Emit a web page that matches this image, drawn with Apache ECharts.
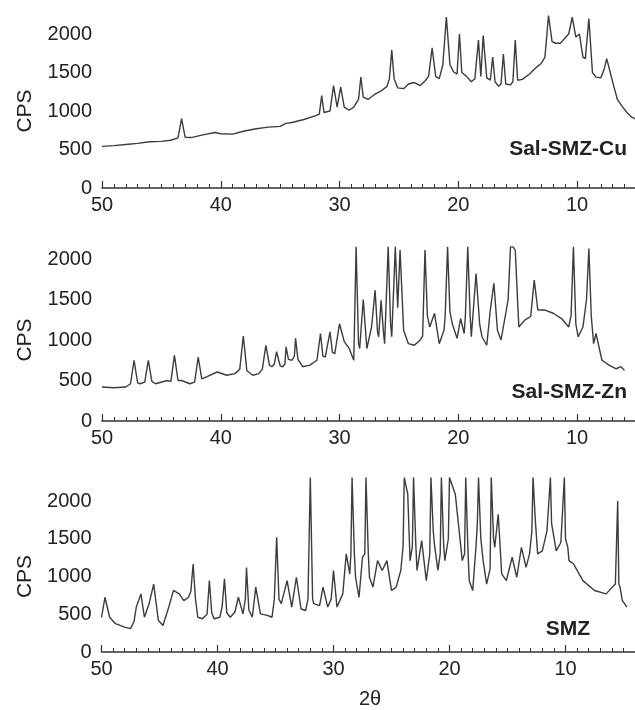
<!DOCTYPE html>
<html>
<head>
<meta charset="utf-8">
<script src="https://cdn.jsdelivr.net/npm/echarts@6/dist/echarts.min.js"></script>
<style>html,body{margin:0;padding:0;background:#fff}#c{width:635px;height:710px}</style>
</head>
<body>
<div id="c"></div>
<script>
// ---- Data (2θ, CPS) ----
const cuTheta = [50,49,48,47,46,45,44.2,43.6,43.3,43.0,42.5,41.5,40.5,40,39,38,37,36,35,34.5,34,33,32,31.7,31.5,31.3,30.8,30.5,30.2,29.9,29.6,29.2,28.8,28.4,28.2,28.0,27.6,27.0,26.5,26.0,25.8,25.6,25.4,25.1,24.6,24.2,23.7,23.2,22.8,22.5,22.2,21.9,21.6,21.3,21.0,20.7,20.4,20.1,19.9,19.7,19.3,18.9,18.6,18.3,18.1,17.9,17.6,17.3,17.1,16.9,16.6,16.4,16.2,16.0,15.6,15.4,15.2,15.0,14.6,14.0,13.4,13.0,12.7,12.4,12.1,11.8,11.4,11.0,10.7,10.4,10.1,9.8,9.5,9.3,9.0,8.7,8.4,8.0,7.7,7.5,7.2,6.9,6.6,6.2,5.8,5.4,5.0];
const cuCPS   = [540,550,565,580,600,605,620,650,900,660,655,690,720,705,700,740,770,790,800,840,850,890,940,960,1200,980,1000,1330,1050,1310,1050,1010,1050,1150,1440,1180,1150,1220,1260,1320,1420,1790,1420,1300,1290,1350,1370,1330,1390,1450,1820,1450,1420,1600,2220,1600,1510,1480,2000,1500,1450,1380,1420,1920,1450,1980,1430,1400,1700,1380,1320,1350,1740,1350,1340,1380,1920,1400,1410,1480,1570,1620,1700,2240,1900,1880,1880,1950,2000,2220,1960,2000,1700,1680,2200,1500,1440,1430,1550,1680,1500,1320,1150,1060,980,920,890];

const znTheta = [50,49,48,47.6,47.3,47.0,46.8,46.4,46.1,45.8,45.5,44.5,44.2,43.9,43.6,43.3,42.6,42.2,41.9,41.6,41.2,40.3,39.5,38.8,38.4,38.1,37.8,37.3,36.8,36.5,36.2,35.9,35.7,35.5,35.3,35.0,34.8,34.6,34.5,34.3,34.0,33.8,33.7,33.5,33.1,32.5,31.9,31.6,31.4,31.2,30.8,30.6,30.4,30.0,29.6,29.2,28.8,28.6,28.4,28.3,28.0,27.8,27.7,27.3,27.0,26.8,26.7,26.5,26.3,26.2,25.9,25.7,25.6,25.3,25.1,24.9,24.6,24.2,23.7,23.2,23.0,22.8,22.6,22.4,22.0,21.6,21.2,21.1,20.9,20.7,20.5,20.1,19.8,19.5,19.4,19.2,19.0,18.9,18.5,18.2,18.0,17.6,17.3,17.0,16.7,16.4,16.0,15.8,15.6,15.4,15.2,14.9,14.4,13.9,13.6,13.3,12.7,12.0,11.3,10.7,10.5,10.3,10.1,9.9,9.5,9.2,9.0,8.8,8.6,8.4,7.9,7.3,6.7,6.3,6.0];
const znCPS   = [420,410,420,460,750,470,460,480,750,490,460,500,490,810,500,500,460,480,790,520,545,605,565,585,640,1050,620,565,585,640,935,690,670,700,855,680,670,700,915,760,750,800,1020,760,670,690,750,1080,800,790,1100,850,830,1200,980,900,750,2150,960,895,1500,1100,895,1160,1615,1100,1040,1490,1100,955,2150,1200,1040,2150,1400,2110,1120,955,935,1000,1050,2110,1300,1160,1330,955,1120,1300,2150,1350,1200,1020,1265,1080,1300,2150,1300,1040,1820,1200,1040,935,1370,1700,1120,1000,1330,1500,2150,2150,2110,1160,1245,1290,1740,1370,1370,1330,1265,1160,1300,2150,1200,1040,1160,1500,2130,1300,955,1080,750,690,645,670,625];

const smzTheta = [50,49.7,49.3,48.8,48,47.5,47.2,47.0,46.6,46.3,45.9,45.5,45.1,44.7,44.2,43.8,43.3,42.9,42.5,42.3,42.1,41.9,41.7,41.3,40.9,40.7,40.5,40.3,39.8,39.6,39.4,39.2,38.9,38.5,38.2,37.8,37.6,37.5,37.3,37.0,36.7,36.3,35.7,35.3,35.1,34.9,34.7,34.5,34.0,33.6,33.2,32.8,32.4,32.2,32.0,31.8,31.7,31.2,30.9,30.5,30.2,30.0,29.7,29.2,28.9,28.6,28.5,28.4,28.2,28.1,27.8,27.5,27.3,27.2,27.0,26.9,26.6,26.2,25.8,25.4,25.0,24.6,24.2,24.0,23.9,23.6,23.4,23.2,23.1,22.9,22.8,22.4,22.0,21.7,21.6,21.4,21.3,21.0,20.8,20.7,20.5,20.4,20.1,20.0,19.5,19.2,18.9,18.7,18.6,18.4,18.3,18.0,17.7,17.6,17.5,17.3,17.1,16.8,16.5,16.4,16.2,16.1,15.8,15.5,15.1,14.6,14.2,13.8,13.4,13.1,12.9,12.8,12.6,12.4,12.0,11.6,11.3,11.2,11.0,10.8,10.4,10.1,10.0,9.8,9.7,9.3,8.5,7.5,6.5,5.7,5.5,5.4,5.3,5.1,4.7,4.2];
const smzCPS   = [460,725,460,375,330,310,400,595,770,460,640,900,420,350,595,815,770,680,725,800,1165,700,460,440,500,945,520,440,460,600,970,520,460,530,725,505,700,1120,560,460,860,505,485,460,700,1520,700,640,945,595,990,570,550,700,2310,700,640,615,860,595,700,1080,595,770,1300,1035,1300,2310,1300,990,725,1255,1300,2310,1300,990,860,1210,1080,1210,815,860,1080,1400,2310,2090,1210,1400,2310,1400,1080,1475,945,1300,2310,1600,1430,1080,1300,2310,1400,1210,1500,2310,2090,1650,1210,1300,2310,1300,945,815,1430,1700,2310,1500,1210,900,1100,2310,1500,1385,1825,1035,945,1255,990,1385,1120,1300,1600,2310,1740,1300,1340,1600,2310,1700,1520,1340,1450,2310,1500,1385,1210,1165,945,815,770,900,2000,900,860,680,595];

// ---- Chart texts ----
const panelNames = ['Sal-SMZ-Cu', 'Sal-SMZ-Zn', 'SMZ'];
const yTitle = 'CPS';
const xTitle = '2θ';

function zip(a, b) { return a.map((v, i) => [v, b[i]]); }
const seriesData = [zip(cuTheta, cuCPS), zip(znTheta, znCPS), zip(smzTheta, smzCPS)];

const FONT = '"Liberation Sans", Arial, Helvetica, sans-serif';
const grids = [
  {left: 102, top: 34, width: 593.75, height: 154, outerBoundsMode: 'none', containLabel: false},
  {left: 102, top: 259, width: 593.75, height: 162, outerBoundsMode: 'none', containLabel: false},
  {left: 101.5, top: 501, width: 580, height: 151, outerBoundsMode: 'none', containLabel: false}
];

const axisLineStyle = {color: '#333', width: 1.5};
const xAxes = grids.map((g, i) => ({
  gridIndex: i, type: 'value', inverse: true, min: 0, max: 50, interval: 10,
  axisLine: {show: true, lineStyle: axisLineStyle},
  axisTick: {show: true, inside: true, length: 7, lineStyle: {color: '#333', width: 1.2}},
  minorTick: {show: true, splitNumber: 10, length: 4, lineStyle: {color: '#333', width: 1}},
  splitLine: {show: false},
  axisLabel: {fontSize: 20, color: '#222', fontFamily: FONT, margin: 7, showMinLabel: false,
    formatter: v => String(v)}
}));
const yAxes = grids.map((g, i) => ({
  gridIndex: i, type: 'value', min: 0, max: 2000, interval: 500,
  axisLine: {show: true, lineStyle: axisLineStyle},
  axisTick: {show: true, inside: true, length: 7, lineStyle: {color: '#333', width: 1.2}},
  splitLine: {show: false},
  axisLabel: {fontSize: 20, color: '#222', fontFamily: FONT, margin: 10,
    formatter: v => String(v)}
}));
const series = seriesData.map((d, i) => ({
  type: 'line', xAxisIndex: i, yAxisIndex: i, data: d,
  showSymbol: false, symbol: 'none', clip: false, animation: false,
  lineStyle: {color: '#3c3c3c', width: 1.4}
}));

const labelPos = [[627, 149], [627, 392], [590, 629]];
const graphics = [];
grids.forEach((g, i) => {
  graphics.push({type: 'text', x: 25, y: g.top + g.height / 2, rotation: Math.PI / 2,
    style: {text: yTitle, fontSize: 21, fontFamily: FONT, fill: '#222', align: 'center', verticalAlign: 'middle'}});
  graphics.push({type: 'text', x: labelPos[i][0], y: labelPos[i][1],
    style: {text: panelNames[i], fontSize: 21, fontWeight: 'bold', fontFamily: FONT, fill: '#222', align: 'right', verticalAlign: 'middle'}});
});
graphics.push({type: 'text', x: 370, y: 699,
  style: {text: xTitle, fontSize: 20, fontFamily: FONT, fill: '#222', align: 'center', verticalAlign: 'middle'}});

const chart = echarts.init(document.getElementById('c'), null, {renderer: 'canvas'});
chart.setOption({
  animation: false,
  backgroundColor: '#fff',
  grid: grids,
  xAxis: xAxes,
  yAxis: yAxes,
  series: series,
  graphic: graphics
});
</script>
</body>
</html>
